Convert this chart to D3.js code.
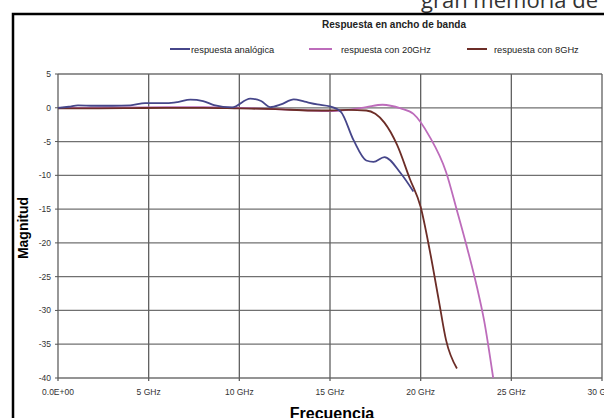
<!DOCTYPE html>
<html>
<head>
<meta charset="utf-8">
<script src="https://cdn.jsdelivr.net/npm/d3@7"></script>
<style>
  body { margin: 0; background: #fff; }
  svg { display: block; font-family: 'Liberation Sans', Arial, sans-serif; }
</style>
</head>
<body>
<svg id="chart" width="604" height="418"></svg>
<script>
// values (GHz, magnitude)
var analogFreq = [0, 0.6, 1.1, 2, 3, 4, 4.8, 6, 6.6, 7.3, 8, 8.6, 9.6, 10.6, 11.2, 11.7, 12.3, 13, 13.6, 14.3, 15, 15.6, 16.3, 17, 17.4, 18, 18.9, 19.6]
var analogVal = [0, 0.15, 0.35, 0.3, 0.3, 0.35, 0.7, 0.7, 0.85, 1.2, 1.0, 0.4, 0.05, 1.35, 1.0, 0.1, 0.5, 1.25, 0.9, 0.5, 0.2, -0.6, -4.8, -7.8, -8, -7.3, -9.7, -12.4]

var g20Freq = [0, 2, 4, 6, 8, 10, 12, 14, 15, 16, 17, 17.9, 18.9, 19.6, 20.5, 21.4, 22, 22.5, 23.1, 23.5, 24]
var g20Val = [0, 0, 0.05, 0.1, 0.1, 0, -0.2, -0.4, -0.5, -0.3, 0.1, 0.45, -0.1, -0.9, -4.3, -9.5, -15.2, -20.1, -26.5, -31.5, -40]

var g8Freq = [0, 2, 4, 6, 8, 10, 12, 14, 15, 16, 17, 17.5, 18, 18.7, 19.4, 20, 20.5, 21, 21.4, 22]
var g8Val = [-0.1, -0.1, -0.05, 0, 0, -0.1, -0.2, -0.4, -0.4, -0.3, -0.4, -0.9, -2.2, -5.5, -10.5, -14.7, -21.1, -28.5, -34.4, -38.6]

var xTicks = [0, 5, 10, 15, 20, 25, 30]
var xTickLabels = ['0.0E+00', '5 GHz', '10 GHz', '15 GHz', '20 GHz', '25 GHz', '30 GHz']
var yTicks = [5, 0, -5, -10, -15, -20, -25, -30, -35, -40]

var seriesNames = ['respuesta analógica', 'respuesta con 20GHz', 'respuesta con 8GHz']
var seriesColors = ['#46468a', '#bd6cbb', '#6c2d27']

function zip(f, v) {
  return f.map(function(d, i) {
    return { f: d, v: v[i] }
  })
}
var series = [zip(analogFreq, analogVal), zip(g20Freq, g20Val), zip(g8Freq, g8Val)]

const svg = d3.select('#chart')

// bit of the page text behind the chart
svg.append('text')
  .attr('x', 421)
  .attr('y', 8)
  .attr('font-family', 'Open Sans, sans-serif')
  .attr('font-size', 22)
  .attr('fill', '#333')
  .text('gran memoria de')

// frame
svg.append('path')
  .attr('d', 'M13,418 V14 H604')
  .attr('fill', 'none')
  .attr('stroke', '#000')
  .attr('stroke-width', 2.5)

const xScale = d3.scaleLinear().domain([0, 30]).range([58, 602])
const yScale = d3.scaleLinear().domain([-40, 5]).range([378, 74])

const chart = svg.append('g')

//grid
chart.append('g')
  .selectAll('line')
  .data(yTicks)
  .enter()
  .append('line')
  .attr('x1', xScale(0))
  .attr('x2', xScale(30))
  .attr('y1', d => yScale(d))
  .attr('y2', d => yScale(d))
  .attr('stroke', '#707070')
  .attr('stroke-width', 1.3)

chart.append('g')
  .selectAll('line')
  .data(xTicks)
  .enter()
  .append('line')
  .attr('x1', d => xScale(d))
  .attr('x2', d => xScale(d))
  .attr('y1', yScale(5))
  .attr('y2', yScale(-40) + 3)
  .attr('stroke', '#606060')
  .attr('stroke-width', 1.3)

// small y ticks
chart.append('g')
  .selectAll('line')
  .data(yTicks)
  .enter()
  .append('line')
  .attr('x1', xScale(0) - 3)
  .attr('x2', xScale(0))
  .attr('y1', d => yScale(d))
  .attr('y2', d => yScale(d))
  .attr('stroke', '#555')

//tick labels
chart.append('g')
  .selectAll('text')
  .data(yTicks)
  .enter()
  .append('text')
  .attr('x', 51)
  .attr('y', d => yScale(d) + 3)
  .attr('text-anchor', 'end')
  .attr('font-size', 8.5)
  .attr('fill', '#333')
  .text(d => d)

chart.append('g')
  .selectAll('text')
  .data(xTicks)
  .enter()
  .append('text')
  .attr('x', d => xScale(d))
  .attr('y', 395)
  .attr('text-anchor', 'middle')
  .attr('font-size', 8.5)
  .attr('fill', '#333')
  .text((d, i) => xTickLabels[i])

// lines
const line = d3.line()
  .x(d => xScale(d.f))
  .y(d => yScale(d.v))
  .curve(d3.curveMonotoneX)

// 20GHz and 8GHz first, analog on top near 0
var order = [1, 2, 0]
order.forEach(function(i) {
  chart.append('path')
    .datum(series[i])
    .attr('d', line)
    .attr('fill', 'none')
    .attr('stroke', seriesColors[i])
    .attr('stroke-width', 1.8)
})

//labels
svg.append('text')
  .attr('x', 394)
  .attr('y', 28)
  .attr('text-anchor', 'middle')
  .attr('font-size', 10)
  .attr('font-weight', 'bold')
  .attr('fill', '#222')
  .text('Respuesta en ancho de banda')

var legendX = [[170, 190, 191], [309, 332, 341], [467, 487, 494]]
var legend = svg.append('g')
seriesNames.forEach(function(name, i) {
  legend.append('line')
    .attr('x1', legendX[i][0])
    .attr('x2', legendX[i][1])
    .attr('y1', 49)
    .attr('y2', 49)
    .attr('stroke', seriesColors[i])
    .attr('stroke-width', 2)
  legend.append('text')
    .attr('x', legendX[i][2])
    .attr('y', 52.5)
    .attr('font-size', 9.3)
    .attr('fill', '#222')
    .text(name)
})

svg.append('text')
  .attr('x', -228)
  .attr('y', 28)
  .attr('transform', 'rotate(-90)')
  .attr('text-anchor', 'middle')
  .attr('font-size', 14)
  .attr('font-weight', 'bold')
  .text('Magnitud')

svg.append('text')
  .attr('x', 332)
  .attr('y', 419)
  .attr('text-anchor', 'middle')
  .attr('font-size', 16)
  .attr('font-weight', 'bold')
  .text('Frecuencia')
</script>
</body>
</html>
